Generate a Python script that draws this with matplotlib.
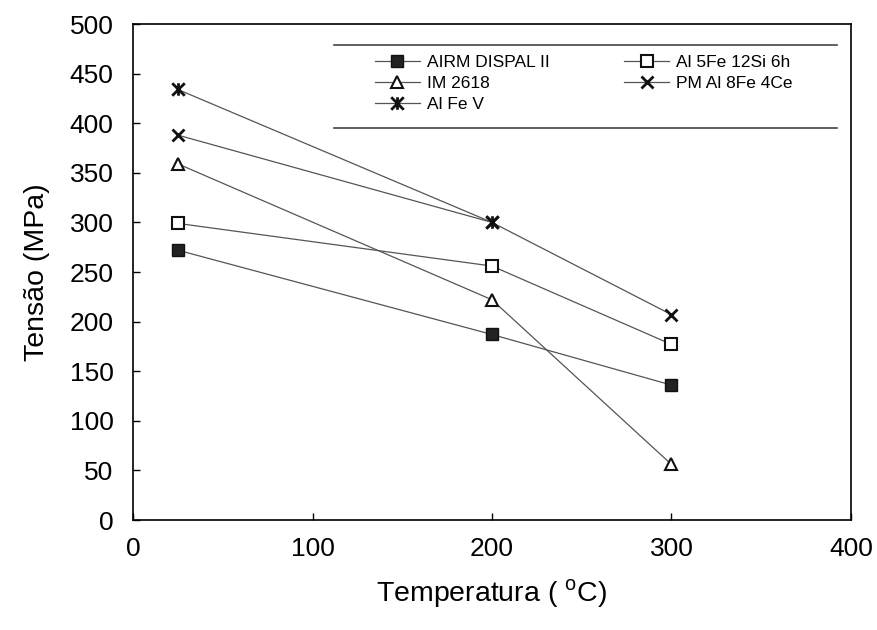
import numpy as np
import matplotlib.pyplot as plt
from matplotlib.path import Path

plt.rcParams['font.family'] = ['Liberation Sans', 'DejaVu Sans']
plt.rcParams['mathtext.fontset'] = 'custom'
plt.rcParams['mathtext.rm'] = 'Liberation Sans'

# tensile strength vs temperature
temp = [25, 200, 300]
airm_dispal = [272, 187, 136]
al5fe_12si = [299, 256, 177]
im2618 = [359, 222, 56]
pm_al8fe4ce = [388, 300, 207]
temp_alfev = [25, 200]
alfev = [434, 300]

xticks = [0, 100, 200, 300, 400]
yticks = list(range(0, 501, 50))

# asterisk-like marker: an "x" with a vertical bar
star_verts = [(-1, -1), (1, 1), (-1, 1), (1, -1), (0, -1), (0, 1)]
star_codes = [Path.MOVETO, Path.LINETO] * 3
star = Path(star_verts, star_codes)

fig = plt.figure(figsize=(8.78, 6.30), dpi=100)
ax = fig.add_axes([0.1515, 0.1746, 0.8177, 0.7873])

lc = '#555555'
lw = 0.9
ax.plot(temp, airm_dispal, color=lc, lw=lw, marker='s', ms=8,
        mfc='#222222', mec='#111111', label='AIRM DISPAL II')
ax.plot(temp, al5fe_12si, color=lc, lw=lw, marker='s', ms=8,
        mfc='white', mec='#111111', mew=1.5, label='Al 5Fe 12Si 6h')
ax.plot(temp, im2618, color=lc, lw=lw, marker='^', ms=8,
        mfc='white', mec='#111111', mew=1.5, label='IM 2618')
ax.plot(temp, pm_al8fe4ce, color=lc, lw=lw, marker='x', ms=9,
        mec='#111111', mew=2, label='PM Al 8Fe 4Ce')
ax.plot(temp_alfev, alfev, color=lc, lw=lw, marker=star, ms=9,
        mec='#111111', mew=2, label='Al Fe V')

ax.set_xlim(0, 400)
ax.set_ylim(0, 500)
ax.set_xticks(xticks)
ax.set_yticks(yticks)
ax.tick_params(direction='in', length=5, width=1, labelsize=19)
ax.tick_params(axis='y', pad=14)
ax.tick_params(axis='x', pad=12)
for s in ax.spines.values():
    s.set_linewidth(1.2)

ax.set_xlabel('Temperatura ( $^{\\mathrm{o}}$C)', fontsize=20.5, labelpad=12)
ax.set_ylabel('Tensão (MPa)', fontsize=20.5, labelpad=14)

h, l = ax.get_legend_handles_labels()
order = [0, 2, 4, 1, 3]
leg = ax.legend([h[i] for i in order], [l[i] for i in order], ncol=2,
                loc='upper left', bbox_to_anchor=(0.315, 0.97),
                frameon=False, fontsize=12.5, handlelength=2.6,
                handletextpad=0.4, columnspacing=4.3, labelspacing=0.35)

# legend box drawn with top and bottom rules only
for yy in (0.958, 0.79):
    ax.plot([0.28, 0.98], [yy, yy], transform=ax.transAxes,
            color='#444444', lw=1.2, clip_on=False)

fig.savefig('out.png', dpi=100)
